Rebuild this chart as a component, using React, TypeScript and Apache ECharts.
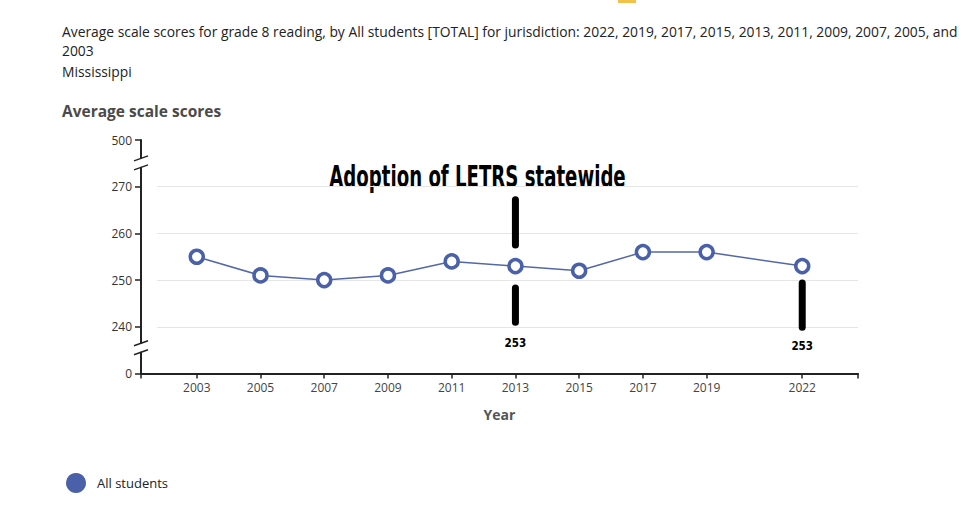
import React, { useEffect, useRef } from "react";
import * as echarts from "echarts";

const years = [2003, 2005, 2007, 2009, 2011, 2013, 2015, 2017, 2019, 2022];
const scores = [255, 251, 250, 251, 254, 253, 252, 256, 256, 253];
const gridValues = [240, 250, 260, 270];
// Broken axis: positions 230 and 280 stand for 0 and 500
const yTickLabels: Record<number, string> = { 230: "0", 240: "240", 250: "250", 260: "260", 270: "270", 280: "500" };
const breakValues = [275.1, 235.5];
// annotation segments [year, from, to]
const annotSegments = [
  [2013, 267.2, 257.5],
  [2013, 248.3, 241.0],
  [2022, 249.4, 239.9],
];
const annotLabels: [number, number, string][] = [
  [2013, 236.6, "253"],
  [2022, 235.9, "253"],
];
const headerLines = [
  "Average scale scores for grade 8 reading, by All students [TOTAL] for jurisdiction: 2022, 2019, 2017, 2015, 2013, 2011, 2009, 2007, 2005, and",
  "2003",
  "Mississippi",
];

const X_MIN = 2001.25;
const X_MAX = 2023.75;
const FONT = "'Open Sans', 'Noto Sans', sans-serif";
const NARROW = "'DejaVu Sans', sans-serif";

export default function App() {
  const ref = useRef<HTMLDivElement>(null);
  useEffect(() => {
    if (!ref.current) return;
    const chart = echarts.init(ref.current, null, { renderer: "svg" });
    const option: any = {
      animation: false,
      backgroundColor: "#fff",
      grid: { left: 141, right: 121, top: 140, bottom: 156.5, containLabel: false },
      legend: {
        left: 66,
        top: 473,
        padding: 0,
        itemWidth: 20,
        itemHeight: 20,
        itemGap: 10,
        textStyle: { fontFamily: FONT, fontSize: 13, color: "#222", padding: [0, 0, 0, 6] },
        data: [{ name: "All students", icon: "circle", itemStyle: { color: "#4a60a8", borderWidth: 0 } }],
      },
      xAxis: {
        type: "value",
        min: X_MIN,
        max: X_MAX,
        name: "Year",
        nameLocation: "middle",
        nameGap: 34,
        nameTextStyle: { fontFamily: FONT, fontSize: 14, fontWeight: "bold", color: "#555" },
        axisLine: { show: true, onZero: false, lineStyle: { color: "#222", width: 2 } },
        axisTick: { show: true, length: 5, lineStyle: { color: "#222", width: 1.5 }, customValues: [X_MIN, ...years, X_MAX] },
        axisLabel: {
          customValues: years,
          fontFamily: FONT,
          fontSize: 12,
          color: "#444",
          margin: 8,
          formatter: (v: number) => String(v),
        },
        splitLine: { show: false },
      },
      yAxis: {
        type: "value",
        min: 230,
        max: 280,
        interval: 10,
        axisLine: { show: true, lineStyle: { color: "#222", width: 2 } },
        axisTick: { show: true, length: 6, lineStyle: { color: "#222", width: 1.5 } },
        axisLabel: {
          fontFamily: FONT,
          fontSize: 12,
          color: "#333",
          margin: 9,
          formatter: (v: number) => yTickLabels[v] ?? "",
        },
        splitLine: { show: false },
      },
      graphic: [
        ...headerLines.map((t, i) => ({
          type: "text",
          left: 62,
          top: [24, 43, 64][i],
          style: { text: t, fontFamily: FONT, fontSize: 13.85, fill: "#222" },
        })),
        {
          type: "text",
          left: 62,
          top: 103,
          style: { text: "Average scale scores", fontFamily: FONT, fontSize: 15.5, fontWeight: "bold", fill: "#4a4a4a" },
        },
        {
          type: "text",
          x: 477.5,
          y: 177,
          scaleX: 0.605,
          style: {
            text: "Adoption of LETRS statewide",
            fontFamily: NARROW,
            fontSize: 30,
            fontWeight: "bold",
            fill: "#000",
            align: "center",
            verticalAlign: "middle",
          },
        },
        { type: "rect", shape: { x: 618, y: 0, width: 18, height: 3 }, style: { fill: "#f2c14a" } },
      ],
      series: [
        {
          name: "All students",
          type: "line",
          data: years.map((y, i) => [y, scores[i]]),
          symbol: "circle",
          symbolSize: 13,
          itemStyle: { color: "#fff", borderColor: "#4a60a8", borderWidth: 3.5 },
          lineStyle: { color: "#5468a8", width: 1.5 },
          z: 5,
          markLine: {
            silent: true,
            symbol: "none",
            label: { show: false },
            lineStyle: { color: "#e6e6e6", width: 1, type: "solid" },
            data: gridValues.map((v) => [{ coord: [2001.75, v] }, { coord: [X_MAX, v] }]),
            z: 1,
          },
        },
        {
          name: "breaks",
          type: "custom",
          silent: true,
          z: 10,
          data: breakValues.map((v) => [X_MIN, v]),
          renderItem: (params: any, api: any) => {
            const p = api.coord([api.value(0), api.value(1)]);
            const x = p[0];
            const y = p[1];
            return {
              type: "group",
              children: [
                { type: "rect", shape: { x: x - 3, y: y - 4, width: 6, height: 8 }, style: { fill: "#fff" } },
                { type: "line", shape: { x1: x - 7, y1: y - 2, x2: x + 7, y2: y - 7 }, style: { stroke: "#222", lineWidth: 1.5 } },
                { type: "line", shape: { x1: x - 7, y1: y + 7, x2: x + 7, y2: y + 2 }, style: { stroke: "#222", lineWidth: 1.5 } },
              ],
            };
          },
        },
        {
          name: "annotations",
          type: "custom",
          silent: true,
          z: 8,
          data: annotSegments,
          renderItem: (params: any, api: any) => {
            const a = api.coord([api.value(0), api.value(1)]);
            const b = api.coord([api.value(0), api.value(2)]);
            return {
              type: "line",
              shape: { x1: a[0], y1: a[1], x2: b[0], y2: b[1] },
              style: { stroke: "#000", lineWidth: 7, lineCap: "round" },
            };
          },
        },
        {
          name: "annotationLabels",
          type: "custom",
          silent: true,
          z: 8,
          data: annotLabels,
          renderItem: (params: any, api: any) => {
            const p = api.coord([api.value(0), api.value(1)]);
            return {
              type: "text",
              x: p[0],
              y: p[1],
              scaleX: 0.8,
              style: {
                text: annotLabels[params.dataIndex][2],
                fontFamily: NARROW,
                fontSize: 13,
                fontWeight: "bold",
                fill: "#000",
                align: "center",
                verticalAlign: "middle",
              },
            };
          },
        },
      ],
    };
    chart.setOption(option);
    return () => chart.dispose();
  }, []);
  return <div ref={ref} style={{ position: "absolute", left: 0, top: 0, width: 979, height: 530 }} />;
}
